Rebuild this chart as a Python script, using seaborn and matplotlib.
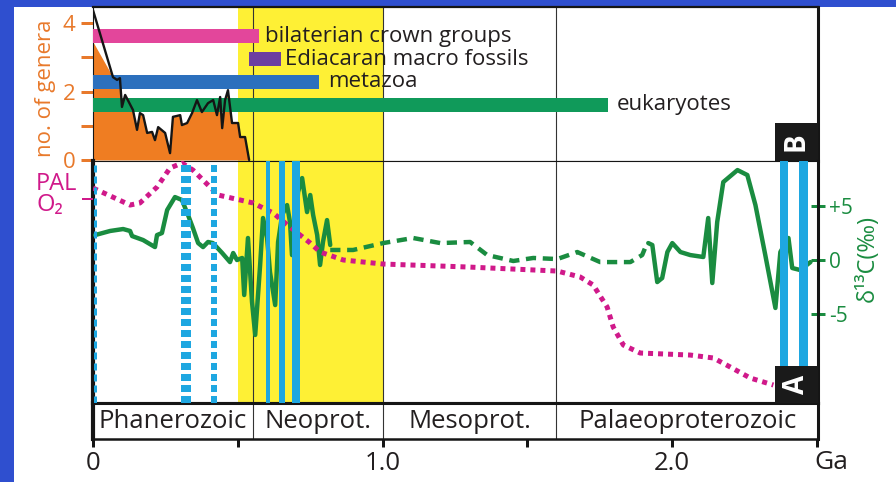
import numpy as np
import matplotlib
matplotlib.use("Agg")
import matplotlib.pyplot as plt
from matplotlib.patches import Rectangle
import seaborn as sns

# ---------------- data ----------------
genera_age = [0.000, 0.069, 0.083, 0.093, 0.100, 0.111, 0.138, 0.152, 0.162, 0.173,
              0.187, 0.204, 0.214, 0.225, 0.249, 0.266, 0.276, 0.301, 0.307, 0.325,
              0.342, 0.359, 0.376, 0.397, 0.415, 0.428, 0.439, 0.446, 0.456, 0.466,
              0.480, 0.501, 0.508, 0.525, 0.539]
genera_count = [4.38, 2.42, 2.34, 2.39, 1.55, 1.90, 1.46, 0.88, 1.37, 1.31,
                0.79, 0.82, 0.58, 0.96, 0.79, 0.20, 1.26, 1.31, 1.02, 1.08,
                1.37, 1.75, 1.40, 1.66, 1.75, 1.31, 1.84, 0.93, 1.75, 2.04,
                1.08, 1.08, 0.67, 0.67, 0.00]

clade_names = ["bilaterian crown groups", "Ediacaran macro fossils", "metazoa", "eukaryotes"]
clade_start = [0.0, 0.539, 0.0, 0.0]
clade_end = [0.573, 0.649, 0.781, 1.779]

# delta13C (per mil): solid Neoproterozoic-Phanerozoic, dashed Mesoproterozoic, solid Palaeoproterozoic
d13c_age_young = [0.007, 0.059, 0.104, 0.128, 0.135, 0.173, 0.214, 0.221, 0.238, 0.256,
                  0.283, 0.307, 0.328, 0.345, 0.363, 0.380, 0.397, 0.414, 0.446, 0.473,
                  0.484, 0.497, 0.515, 0.522, 0.535, 0.549, 0.560, 0.577, 0.587, 0.601,
                  0.611, 0.629, 0.639, 0.653, 0.670, 0.680, 0.687, 0.698, 0.708, 0.722,
                  0.739, 0.750, 0.760, 0.774, 0.784, 0.794, 0.808, 0.819]
d13c_val_young = [2.31, 2.69, 2.87, 2.69, 2.22, 1.85, 1.20, 2.31, 2.50, 4.63,
                  5.83, 5.56, 4.17, 2.96, 1.57, 1.20, 1.67, 1.57, 0.65, -0.19,
                  0.65, 0.00, 0.19, -3.24, 2.04, -3.89, -6.94, -0.46, 3.89, 2.04,
                  -1.11, -4.17, 1.67, 4.17, 5.09, 3.52, 0.46, 2.59, 6.30, 7.59,
                  4.44, 6.02, 4.17, 2.31, -0.46, 1.67, 3.70, 1.39]
d13c_age_meso = [0.819, 0.898, 1.002, 1.105, 1.199, 1.302, 1.361, 1.451, 1.520, 1.603,
                 1.672, 1.751, 1.855, 1.896, 1.906]
d13c_val_meso = [0.93, 0.93, 1.57, 2.04, 1.57, 1.67, 0.46, -0.09, 0.19, 0.09,
                 0.74, -0.19, -0.19, 0.46, 1.11]
d13c_age_old = [1.917, 1.931, 1.948, 1.965, 1.983, 2.000, 2.028, 2.062, 2.107, 2.124,
                2.138, 2.155, 2.176, 2.225, 2.259, 2.287, 2.321, 2.356, 2.373, 2.401,
                2.414, 2.442, 2.477]
d13c_val_old = [1.57, 1.39, -2.04, -1.67, 0.74, 1.57, 0.74, 0.46, 0.28, 3.89,
                -2.13, 3.52, 7.22, 8.33, 7.87, 5.09, 0.46, -4.44, 0.74, 2.04,
                -0.74, -0.93, -0.19]

# atmospheric O2 (log10 of PAL, relative)
o2_age = [0.000, 0.128, 0.162, 0.221, 0.266, 0.307, 0.345, 0.397, 0.432, 0.508,
          0.553, 0.622, 0.680, 0.750, 0.784, 0.864, 1.002, 1.292, 1.603, 1.682,
          1.727, 1.775, 1.796, 1.831, 1.889, 2.062, 2.142, 2.200, 2.269, 2.349]
o2_logpal = [0.157, -0.086, -0.057, 0.171, 0.443, 0.514, 0.414, 0.200, 0.057, -0.014,
             -0.057, -0.200, -0.400, -0.629, -0.757, -0.871, -0.929, -0.971, -1.029, -1.114,
             -1.229, -1.543, -1.829, -2.086, -2.200, -2.229, -2.271, -2.400, -2.557, -2.657]

glaciation_dashed = [0.007, 0.321, 0.418]
glaciation_solid = [0.603, 0.653, 0.701, 2.385, 2.452]

era_names = ["Phanerozoic", "Neoprot.", "Mesoprot.", "Palaeoproterozoic"]
era_bounds = [0.0, 0.553, 1.0, 1.6, 2.503]
yellow_span = [0.50, 1.0]

x_major = [0.0, 1.0, 2.0]
x_major_labels = ["0", "1.0", "2.0"]
x_minor = [0.5, 1.5, 2.5]
genera_ticks = [0, 1, 2, 3, 4]
genera_tick_labels = ["0", "", "2", "", "4"]
d13c_ticks = [-5, 0, 5]
d13c_tick_labels = ["-5", "0", "+5"]

# ---------------- styles ----------------
BG = "#2f4fcf"
ORANGE = "#ef7d22"
ORANGE_TXT = "#e8792b"
YELLOW = "#fef035"
CLADE_COLORS = ["#e3469b", "#6d3fa0", "#2c70bd", "#109a5a"]
CLADE_Y = [3.62, 2.94, 2.28, 1.62]
CLADE_LABEL_DX = [0.020, 0.013, 0.030, 0.030]
GREEN = "#1a8c40"
MAGENTA = "#d0198a"
GLAC = "#1ea7e1"
TXT = "#231f20"
px = 0.72  # points per pixel at 100 dpi

sns.set_theme(style="white")
plt.rcParams["font.family"] = ["Open Sans", "DejaVu Sans"]

W, H = 896, 482
fig = plt.figure(figsize=(W / 100, H / 100), dpi=100, facecolor=BG)
fig.patches.append(Rectangle((14 / W, 0), 1, 1 - 7 / H, transform=fig.transFigure,
                             facecolor="white", edgecolor="none", zorder=-10))


def box(x0, y0, x1, y1):
    return [x0 / W, 1 - y1 / H, (x1 - x0) / W, (y1 - y0) / H]


XL, XR = 93, 818
axB = fig.add_axes(box(XL, 7, XR, 161))
axA = fig.add_axes(box(XL, 161, XR, 403))
axE = fig.add_axes(box(XL, 403, XR, 439))
axO = axA.twinx()
XMAX = era_bounds[-1]
for ax in (axB, axA, axE, axO):
    ax.set_xlim(0, XMAX)
for ax in (axB, axA, axE):
    ax.set_facecolor("white")
    for b in era_bounds[1:-1]:
        ax.axvline(b, color="#333333", lw=0.8, zorder=1)
for ax in (axB, axA):
    ax.axvspan(yellow_span[0], yellow_span[1], color=YELLOW, lw=0, zorder=0)

# ---------------- panel B ----------------
axB.set_ylim(-0.03, 4.47)
axB.fill_between(genera_age, 0, np.minimum(genera_count, 3.45), color=ORANGE, lw=0, zorder=2)
for name, s, e, c, y, dx in zip(clade_names, clade_start, clade_end, CLADE_COLORS, CLADE_Y, CLADE_LABEL_DX):
    axB.barh(y, e - s, left=s, height=0.41, color=c, lw=0, zorder=3)
    axB.text(e + dx, y, name, fontsize=16, color=TXT, va="center", ha="left", zorder=5)
sns.lineplot(x=genera_age, y=genera_count, ax=axB, color="#151515", lw=1.7,
             estimator=None, sort=False, zorder=4)
axB.set_xticks([])
axB.set_yticks(genera_ticks)
axB.set_yticklabels(genera_tick_labels)
axB.tick_params(axis="y", left=True, direction="out", length=12 * px, width=3 * px,
                colors=ORANGE_TXT, labelsize=16, pad=4)
axB.set_xlabel("")
axB.set_ylabel("")
for side, lw in (("top", 1.6), ("right", 2.2), ("left", 0.8), ("bottom", 0.8)):
    axB.spines[side].set_color("#151515")
    axB.spines[side].set_linewidth(lw)
fig.text(45 / W, 1 - 88 / H, "no. of genera", rotation=90, ha="center", va="center",
         fontsize=16, color=ORANGE_TXT)
axB.add_patch(Rectangle((0.9407, 0), 0.0593, 0.247, transform=axB.transAxes,
                        facecolor="#1a1a1a", edgecolor="none", zorder=6, clip_on=False))
axB.text(0.970, 0.123, "B", transform=axB.transAxes, rotation=90, color="white",
         fontsize=20, fontweight="bold", ha="center", va="center", zorder=7)

# ---------------- panel A: delta13C (right axis) ----------------
axA.set_ylim(-13.24, 9.17)
sns.lineplot(x=d13c_age_young, y=d13c_val_young, ax=axA, color=GREEN, lw=3.2,
             estimator=None, sort=False, zorder=3, solid_joinstyle="round", solid_capstyle="round")
sns.lineplot(x=d13c_age_meso, y=d13c_val_meso, ax=axA, color=GREEN, lw=3.2,
             estimator=None, sort=False, zorder=3, linestyle=(0, (2.3, 1.5)))
sns.lineplot(x=d13c_age_old, y=d13c_val_old, ax=axA, color=GREEN, lw=3.2,
             estimator=None, sort=False, zorder=3, solid_joinstyle="round", solid_capstyle="round")
axA.set_xticks([])
axA.set_xlabel("")
axA.set_ylabel("")
axA.yaxis.tick_right()
axA.set_yticks(d13c_ticks)
axA.set_yticklabels(d13c_tick_labels)
axA.tick_params(axis="y", right=True, left=False, labelright=True, labelleft=False,
                direction="inout", length=14 * px, width=3 * px, colors=GREEN,
                labelsize=15, pad=3)
for side, lw in (("top", 0.8), ("right", 2.2), ("left", 3.0), ("bottom", 2.2)):
    axA.spines[side].set_color("#151515")
    axA.spines[side].set_linewidth(lw)
fig.text(868 / W, 1 - 258 / H, "δ¹³C(‰)", rotation=90, ha="center", va="center",
         fontsize=17, color=GREEN)

# ---------------- panel A: O2 (left axis) and glaciations ----------------
axO.set_ylim(-2.914, 0.543)
sns.lineplot(x=o2_age, y=o2_logpal, ax=axO, color=MAGENTA, lw=3.6, estimator=None,
             sort=False, zorder=4, linestyle=(0, (1, 1)), dash_capstyle="butt")
for g, w in zip(glaciation_dashed, [3, 10, 6]):
    lwp = w * px
    axO.axvline(g, color=GLAC, lw=lwp, linestyle=(0, (7 * px / lwp, 4 * px / lwp)), zorder=5)
for g, w in zip(glaciation_solid, [4, 6, 8, 8, 9]):
    axO.axvline(g, color=GLAC, lw=w * px, zorder=5)
axO.set_xticks([])
axO.set_ylabel("")
axO.yaxis.tick_left()
axO.set_yticks([0])
axO.set_yticklabels([""])
axO.tick_params(axis="y", left=True, right=False, labelleft=True, labelright=False,
                direction="out", length=11 * px, width=2 * px, colors=MAGENTA)
for s in axO.spines.values():
    s.set_visible(False)
fig.text(36 / W, 1 - 172 / H, "PAL\nO₂", ha="left", va="top", fontsize=17,
         color=MAGENTA, linespacing=0.85)
axO.add_patch(Rectangle((0.9407, 0), 0.0593, 0.153, transform=axO.transAxes,
                        facecolor="#1a1a1a", edgecolor="none", zorder=8, clip_on=False))
axO.text(0.970, 0.0765, "A", transform=axO.transAxes, rotation=90, color="white",
         fontsize=20, fontweight="bold", ha="center", va="center", zorder=9)

# ---------------- era bar + time axis ----------------
axE.set_ylim(0, 1)
axE.set_yticks([])
for name, a, b in zip(era_names, era_bounds[:-1], era_bounds[1:]):
    axE.text((a + b) / 2, 0.5, name, ha="center", va="center", fontsize=18.5, color=TXT)
axE.set_xticks(x_major)
axE.set_xticklabels(x_major_labels)
axE.set_xticks(x_minor, minor=True)
axE.tick_params(axis="x", which="both", bottom=True, direction="out", length=8 * px,
                width=3 * px, colors="#151515", labelsize=18.5, pad=3, labelcolor=TXT)
axE.annotate("Ga", xy=(2.5, 0), xycoords=("data", "axes fraction"), xytext=(-2, -8),
             textcoords="offset points", ha="left", va="top", fontsize=19, color=TXT,
             annotation_clip=False)
for side, lw in (("top", 2.2), ("right", 2.2), ("left", 3.0), ("bottom", 1.8)):
    axE.spines[side].set_color("#151515")
    axE.spines[side].set_linewidth(lw)

fig.savefig("out.png", dpi=100, facecolor=BG)
